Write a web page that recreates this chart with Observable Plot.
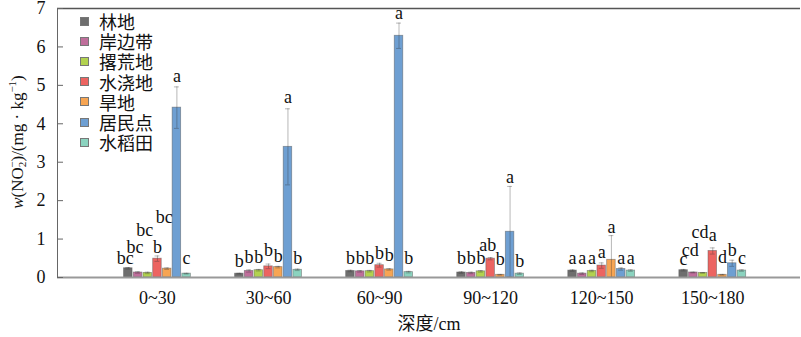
<!DOCTYPE html>
<html>
<head>
<meta charset="utf-8">
<script src="https://cdn.jsdelivr.net/npm/d3@7"></script>
<script src="https://cdn.jsdelivr.net/npm/@observablehq/plot@0.6"></script>
<style>
  body { margin: 0; background: #fff; }
  #wrap { position: relative; width: 801px; height: 337px; }
  #legend { position: absolute; left: 80px; top: 11px; font-family: "Noto Sans CJK SC", sans-serif; font-size: 18px; color: #111; }
  #legend .row { height: 20.2px; line-height: 20.2px; display: flex; align-items: center; white-space: nowrap; }
  #legend .sw { width: 7px; height: 7px; border: 1px solid #777; margin-right: 10px; }
</style>
</head>
<body>
<div id="wrap"><div id="legend"></div></div>
<script>
// ---- categories ----
const depths = ["0~30", "30~60", "60~90", "90~120", "120~150", "150~180"];
const landTypes = ["林地", "岸边带", "撂荒地", "水浇地", "旱地", "居民点", "水稻田"];
const typeColors = ["#6e6e6e", "#bf6e9b", "#b2d24f", "#ec6461", "#f7a553", "#6e9fd2", "#8bd3bf"];
const yTicks = [0, 1, 2, 3, 4, 5, 6, 7];

// ---- mean values (mg/kg), one per depth ----
const lindi       = [0.24, 0.10, 0.17, 0.13, 0.18, 0.19];
const anbiandai   = [0.13, 0.17, 0.16, 0.12, 0.10, 0.13];
const liaohuangdi = [0.12, 0.19, 0.165, 0.16, 0.17, 0.12];
const shuijiaodi  = [0.49, 0.29, 0.32, 0.49, 0.31, 0.69];
const handi       = [0.23, 0.27, 0.21, 0.07, 0.46, 0.07];
const jumindian   = [4.42, 3.40, 6.29, 1.19, 0.22, 0.37];
const shuidaotian = [0.10, 0.20, 0.14, 0.10, 0.18, 0.18];

// ---- error bars ----
const lindiErr       = [0.02, 0.01, 0.02, 0.02, 0.02, 0.02];
const anbiandaiErr   = [0.02, 0.03, 0.02, 0.02, 0.02, 0.01];
const liaohuangdiErr = [0.02, 0.02, 0.02, 0.02, 0.02, 0.01];
const shuijiaodiErr  = [0.07, 0.06, 0.05, 0.03, 0.07, 0.08];
const handiErr       = [0.02, 0.02, 0.02, 0.01, 0.63, 0.01];
const jumindianErr   = [0.54, 0.99, 0.33, 1.18, 0.03, 0.08];
const shuidaotianErr = [0.01, 0.02, 0.02, 0.02, 0.02, 0.02];

// ---- significance letters ----
const lindiSig       = ["bc", "b", "b", "b", "a", "c"];
const anbiandaiSig   = ["bc", "b", "b", "b", "a", "cd"];
const liaohuangdiSig = ["bc", "b", "b", "b", "a", "cd"];
const shuijiaodiSig  = ["b", "b", "b", "ab", "a", "a"];
const handiSig       = ["bc", "b", "b", "b", "a", "d"];
const jumindianSig   = ["a", "a", "a", "a", "a", "b"];
const shuidaotianSig = ["c", "b", "b", "b", "a", "c"];

// ---- letter baseline heights (mg/kg units) ----
const lindiSigAt       = [0.35, 0.28, 0.34, 0.34, 0.34, 0.32];
const anbiandaiSigAt   = [0.65, 0.385, 0.34, 0.34, 0.34, 0.56];
const liaohuangdiSigAt = [1.08, 0.385, 0.34, 0.34, 0.34, 1.04];
const shuijiaodiSigAt  = [0.64, 0.56, 0.48, 0.69, 0.52, 0.95];
const handiSigAt       = [1.43, 0.41, 0.43, 0.33, 1.15, 0.37];
const jumindianSigAt   = [5.09, 4.53, 6.72, 2.47, 0.36, 0.56];
const shuidaotianSigAt = [0.35, 0.34, 0.34, 0.27, 0.36, 0.36];

const seriesVals = [lindi, anbiandai, liaohuangdi, shuijiaodi, handi, jumindian, shuidaotian];
const seriesErr = [lindiErr, anbiandaiErr, liaohuangdiErr, shuijiaodiErr, handiErr, jumindianErr, shuidaotianErr];
const seriesSig = [lindiSig, anbiandaiSig, liaohuangdiSig, shuijiaodiSig, handiSig, jumindianSig, shuidaotianSig];
const seriesSigAt = [lindiSigAt, anbiandaiSigAt, liaohuangdiSigAt, shuijiaodiSigAt, handiSigAt, jumindianSigAt, shuidaotianSigAt];

// group layout in depth-index units
const xDomain = [-0.9, 5.79];
const step = 0.0875;   // width of one bar slot within a depth group
const cap = 0.022;     // half width of error-bar caps

const rows = [];
landTypes.forEach((t, ti) => {
  depths.forEach((d, gi) => {
    rows.push({
      type: t, depth: d,
      cx: gi + (ti - 3) * step,
      value: seriesVals[ti][gi],
      err: seriesErr[ti][gi],
      sig: seriesSig[ti][gi],
      sigAt: seriesSigAt[ti][gi]
    });
  });
});
const singleSig = rows.filter(d => d.sig.length === 1);
const doubleSig = rows.filter(d => d.sig.length > 1);

const serif = "'Liberation Serif', 'Times New Roman', 'Noto Sans CJK SC', serif";

const chart = Plot.plot({
  width: 801,
  height: 337,
  marginLeft: 57,
  marginRight: 1,
  marginTop: 8,
  marginBottom: 60,
  style: { fontFamily: serif, fontSize: "18px", color: "#111", background: "#fff", overflow: "visible" },
  x: { domain: xDomain, axis: null },
  y: { domain: [0, 7], axis: null },
  color: { domain: landTypes, range: typeColors },
  marks: [
    Plot.rectY(rows, {
      x1: d => d.cx - step / 2, x2: d => d.cx + step / 2,
      y1: 0, y2: "value",
      fill: "type", stroke: "#555", strokeOpacity: 0.55, strokeWidth: 0.8,
      insetLeft: 0.6, insetRight: 0.6
    }),
    Plot.ruleX(rows, {
      x: "cx", y1: d => Math.max(0, d.value - d.err), y2: d => d.value + d.err,
      stroke: "#333", strokeOpacity: 0.35, strokeWidth: 1
    }),
    Plot.ruleY(rows, {
      x1: d => d.cx - cap, x2: d => d.cx + cap, y: d => d.value + d.err,
      stroke: "#333", strokeOpacity: 0.35, strokeWidth: 1
    }),
    Plot.ruleY(rows, {
      x1: d => d.cx - cap, x2: d => d.cx + cap, y: d => Math.max(0, d.value - d.err),
      stroke: "#333", strokeOpacity: 0.35, strokeWidth: 1
    }),
    Plot.text(singleSig, {
      x: "cx", y: "sigAt", text: "sig",
      lineAnchor: "bottom", textAnchor: "middle",
      fill: "#111", fontSize: 18, fontFamily: serif
    }),
    Plot.text(doubleSig, {
      x: "cx", y: "sigAt", text: "sig", dx: -3,
      lineAnchor: "bottom", textAnchor: "middle",
      fill: "#111", fontSize: 18, fontFamily: serif
    }),
    Plot.ruleY([0], { stroke: "#999", strokeWidth: 2 }),
    Plot.ruleY([7], { stroke: "#555", strokeWidth: 1.5 }),
    Plot.ruleX([xDomain[0]], { stroke: "#666", strokeWidth: 1 }),
    Plot.axisY({
      ticks: yTicks, tickFormat: d => String(d), anchor: "left",
      tickSize: -6, tickPadding: 18, stroke: "#666", color: "#111", label: null,
      fontSize: 18
    }),
    Plot.axisX({
      ticks: d3.range(depths.length), tickFormat: i => depths[i], anchor: "bottom",
      tickSize: 0, tickPadding: 14, color: "#111", label: null, fontSize: 18
    }),
    Plot.text(["深度/cm"], {
      frameAnchor: "bottom", dy: 47, lineAnchor: "middle",
      fill: "#111", fontSize: 18, fontFamily: serif
    })
  ]
});

document.getElementById("wrap").prepend(chart);

// y-axis title with italic variable, sub/superscripts
const svg = d3.select(chart);
const yl = svg.append("text")
  .attr("transform", "translate(19,142) rotate(-90)")
  .attr("text-anchor", "middle")
  .attr("dominant-baseline", "middle")
  .attr("fill", "#111")
  .style("font-family", serif)
  .style("font-size", "17px");
yl.append("tspan").attr("font-style", "italic").text("w");
yl.append("tspan").text("(NO");
yl.append("tspan").attr("font-size", "11px").attr("dy", 4).text("2");
yl.append("tspan").attr("font-size", "11px").attr("dx", -6).attr("dy", -10).text("−");
yl.append("tspan").attr("dy", 6).text(")/(mg · kg");
yl.append("tspan").attr("font-size", "11px").attr("dy", -6).text("−1");
yl.append("tspan").attr("dy", 6).text(")");

// legend
const legend = d3.select("#legend");
landTypes.forEach((t, i) => {
  const row = legend.append("div").attr("class", "row");
  row.append("div").attr("class", "sw").style("background", typeColors[i]);
  row.append("span").text(t);
});
</script>
</body>
</html>
